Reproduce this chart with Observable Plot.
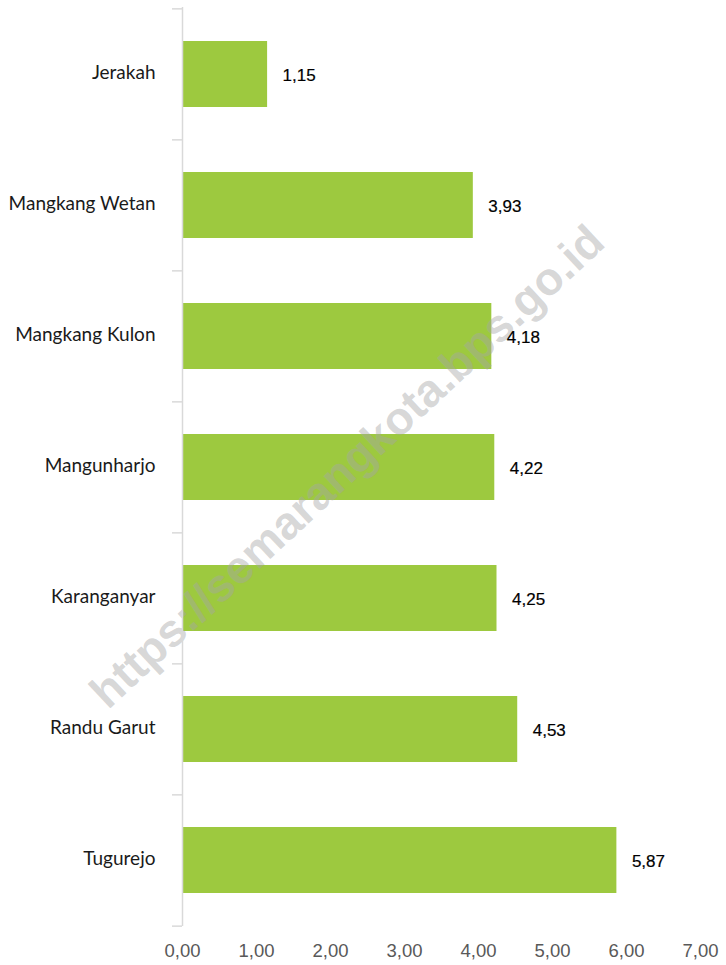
<!DOCTYPE html>
<html>
<head>
<meta charset="utf-8">
<script src="https://cdn.jsdelivr.net/npm/d3@7"></script>
<script src="https://cdn.jsdelivr.net/npm/@observablehq/plot@0.6"></script>
<style>
  html, body { margin: 0; padding: 0; background: #fff; }
  #chart svg { display: block; }
</style>
</head>
<body>
<div id="chart"></div>
<script>
const categories = ["Jerakah", "Mangkang Wetan", "Mangkang Kulon", "Mangunharjo", "Karanganyar", "Randu Garut", "Tugurejo"];
const values = [1.15, 3.93, 4.18, 4.22, 4.25, 4.53, 5.87];
const xTicks = [0, 1, 2, 3, 4, 5, 6, 7];
const watermark = ["https://semarangkota.bps.go.id"];

const data = categories.map((c, i) => ({category: c, value: values[i]}));
const fmt = v => v.toFixed(2).replace(".", ",");

const W = 726, H = 965, mT = 7, mB = 39;
const step = (H - mT - mB) / categories.length;

const plot = Plot.plot({
  width: W,
  height: H,
  marginLeft: 182,
  marginRight: 26,
  marginTop: mT,
  marginBottom: mB,
  style: {background: "#fff", overflow: "visible"},
  x: {domain: [0, 7], ticks: xTicks, label: null},
  y: {domain: categories, paddingInner: 0.5, paddingOuter: 0.25, label: null},
  marks: [
    Plot.barX(data, {x: "value", y: "category", fill: "#9DC93F"}),
    Plot.text(watermark, {
      text: d => d, frameAnchor: "middle", dx: -94, dy: 0, rotate: -43,
      fontSize: 46, fontWeight: "bold", fill: "#a6a6a6", fillOpacity: 0.45,
      fontFamily: "Liberation Sans, Arial, sans-serif"
    }),
    Plot.ruleX([0], {stroke: "#d9d9d9", strokeWidth: 1.5}),
    Plot.axisY({tickSize: 10, text: null, label: null, stroke: "#d9d9d9", strokeWidth: 1.5, dy: -step / 2}),
    Plot.axisY([categories[categories.length - 1]], {tickSize: 10, text: null, label: null, stroke: "#d9d9d9", strokeWidth: 1.5, dy: step / 2}),
    Plot.axisY({tickSize: 0, tickPadding: 27, label: null, dy: -2, fontSize: 19, fill: "#1a1a1a", fontFamily: "Lato, sans-serif"}),
    Plot.axisX({ticks: xTicks, tickSize: 0, tickPadding: 17, label: null, tickFormat: fmt, fontSize: 18.5, fill: "#595959", stroke: "#595959", strokeWidth: 0.3, fontFamily: "Liberation Sans, Arial, sans-serif"}),
    Plot.text(data, {x: "value", y: "category", text: d => fmt(d.value), textAnchor: "start", dx: 15, dy: 1, fontSize: 17, fill: "#000", stroke: "#000", strokeWidth: 0.2, fontFamily: "Liberation Sans, Arial, sans-serif"})
  ]
});
document.getElementById("chart").appendChild(plot);
</script>
</body>
</html>
